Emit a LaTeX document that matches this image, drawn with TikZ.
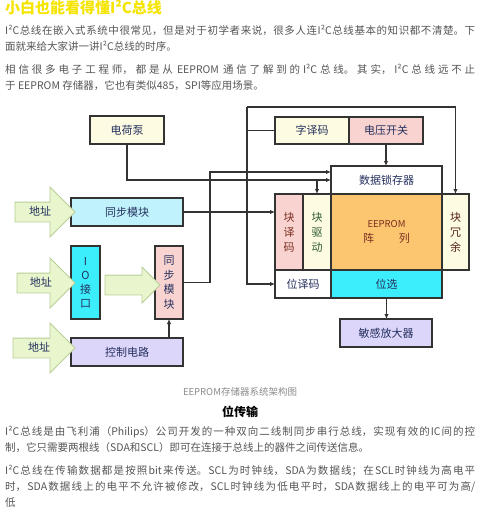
\documentclass[tikz,border=0pt]{standalone}
\usepackage{fontspec}
\setmainfont{Noto Sans CJK SC}
\usetikzlibrary{arrows.meta, positioning, shapes.arrows, calc}
\XeTeXlinebreaklocale "zh"
\XeTeXlinebreakskip=0pt plus 2pt

\definecolor{lineclr}{HTML}{333333}
\definecolor{labelclr}{HTML}{24305E}
\definecolor{txtclr}{HTML}{555555}
\definecolor{capclr}{HTML}{8A8A8A}
\definecolor{titleclr}{HTML}{F5E400}
\definecolor{yelfill}{HTML}{FDFBE1}
\definecolor{pinkfill}{HTML}{F9D3D0}
\definecolor{cyanlt}{HTML}{BFF2FB}
\definecolor{cyandk}{HTML}{3CEEFC}
\definecolor{orangefill}{HTML}{FCC671}
\definecolor{lavfill}{HTML}{DDD6FB}
\definecolor{grnfill}{HTML}{E8F5CD}
\definecolor{grnline}{HTML}{B7CF96}
\definecolor{redtxt}{HTML}{7A2E20}
\definecolor{grntxt}{HTML}{2E5E2E}

\tikzset{
  blk/.style={draw=lineclr, line width=1.1pt, inner sep=0pt, outer sep=0pt,
    text=labelclr, align=center, font=\fontsize{11}{15}\selectfont},
  addr/.style={single arrow, draw=grnline, fill=grnfill, line width=0.8pt,
    single arrow head extend=15pt, text height=7.5pt, text depth=1.5pt,
    inner ysep=5pt, inner xsep=0pt, text=labelclr, font=\fontsize{11}{13}\selectfont},
  wire/.style={draw=lineclr, line width=1.1pt},
  dot/.style={circle, fill=lineclr, inner sep=0pt, minimum size=3.6pt},
  para/.style={anchor=north west, text width=470pt, align=justify, inner sep=0pt,
    text=txtclr}
}

\begin{document}
\begin{tikzpicture}[x=1pt, y=-1pt, >={Latex[length=5pt, width=4.5pt]}]
    \useasboundingbox (0,0) rectangle (480,509);

    % Text above the figure
    \node[anchor=west, inner sep=0pt, text=titleclr, font=\bfseries\fontsize{15}{17}\selectfont] (title) at (5,8) {小白也能看得懂I²C总线};
    \node[para, font=\fontsize{10.5}{15.5}\selectfont] (par1) at (5,25) {I²C总线在嵌入式系统中很常见，但是对于初学者来说，很多人连I²C总线基本的知识都不清楚。下\linebreak 面就来给大家讲一讲I²C总线的时序。};
    \node[para, font=\fontsize{10.5}{15.5}\selectfont] (par2) at (5,64) {相信很多电子工程师，都是从 EEPROM 通信了解到的I²C总线。其实，I²C总线远不止\linebreak 于 EEPROM 存储器，它也有类似485，SPI等应用场景。};

    % Left blocks
    \node[blk, fill=yelfill, minimum width=74pt, minimum height=28pt] (pump) at (127,130) {电荷泵};
    \node[blk, fill=cyanlt, minimum width=112pt, minimum height=28pt] (syncA) at (127,212) {同步模块};
    \node[blk, fill=cyandk, minimum width=29pt, minimum height=73pt, font=\fontsize{11}{14}\selectfont] (ioport) at (85.5,282.5) {I\\O\\接\\口};
    \node[blk, fill=pinkfill, minimum width=28pt, minimum height=73pt, font=\fontsize{11}{14.5}\selectfont] (syncB) at (169,282.5) {同\\步\\模\\块};
    \node[blk, fill=lavfill, minimum width=112pt, minimum height=28pt] (ctrl) at (127,352) {控制电路};

    % Address inputs
    \node[addr, minimum height=60pt] (addr1) at (40,212) {地址};
    \node[addr, minimum height=58pt] (addr2) at (41,283) {地址};
    \node[addr, minimum height=62pt] (addr3) at (39,348) {地址};
    \node[addr, minimum height=55pt, single arrow head extend=8pt] (iolink) at (127.5,285) {};

    % Memory blocks
    \node[blk, fill=yelfill, minimum width=74pt, minimum height=27pt] (worddec) at (312,130.5) {字译码};
    \node[blk, fill=pinkfill, minimum width=74pt, minimum height=27pt, right=0pt of worddec] (vswitch) {电压开关};
    \node[blk, fill=white, minimum width=111pt, minimum height=28pt] (latch) at (386.5,180) {数据锁存器};
    \node[blk, fill=orangefill, minimum width=111pt, minimum height=76pt, text=redtxt, below=0pt of latch] (array) {{\fontsize{9.5}{14}\selectfont EEPROM}\\阵\hspace{25pt}列};
    \node[blk, fill=yelfill, minimum width=27pt, minimum height=76pt, text=redtxt!70!black, right=0pt of array] (blkred) {块\\冗\\余};
    \node[blk, fill=yelfill, minimum width=28pt, minimum height=76pt, text=grntxt, left=0pt of array] (blkdrv) {块\\驱\\动};
    \node[blk, fill=pinkfill, minimum width=28pt, minimum height=76pt, text=redtxt, left=0pt of blkdrv] (blkdec) {块\\译\\码};
    \node[blk, fill=cyandk, minimum width=111pt, minimum height=28pt, below=0pt of array] (bitsel) {位选};
    \node[blk, fill=white, minimum width=56pt, minimum height=28pt, left=0pt of bitsel] (bitdec) {位译码};
    \node[blk, fill=lavfill, minimum width=92pt, minimum height=28pt] (sense) at (386,333) {敏感放大器};

    % Bus lines
    \coordinate (busL) at (210,172);
    \coordinate (busR) at (247,107);
    \draw[wire, ->] (pump.south) |- (latch.west);
    \draw[wire, ->] (syncB.east) -| (busL) -- (busL -| latch.west);
    \draw[wire, ->] (busR) |- (bitdec.west);
    \draw[wire, ->] (busR) -| (blkred.north);
    \draw[wire] (worddec.west) -- (worddec.west -| busR);
    \draw[wire, ->] (syncA.east) -- (syncA.east -| blkdec.west);
    \draw[wire, ->] (blkdrv.north |- latch.west) -- (blkdrv.north);
    \draw[wire, ->] (vswitch.south) -- (vswitch.south |- latch.north);
    \draw[wire, ->] (bitsel.south) -- (bitsel.south |- sense.north);
    \draw[wire, ->] (ctrl.north -| syncB.south) -- (syncB.south);

    % Junctions
    \node[dot] (j1) at (busL |- latch.west) {};
    \node[dot] (j2) at (busR |- latch.west) {};
    \node[dot] (j3) at (busR |- busL) {};
    \node[dot] (j4) at (busL |- syncA.east) {};
    \node[dot] (j5) at (busR |- syncA.east) {};

    % Text below the figure
    \node[text=capclr, font=\fontsize{9.5}{11}\selectfont] (caption) at (240,392) {EEPROM存储器系统架构图};
    \node[text=black, font=\bfseries\fontsize{12}{14}\selectfont] (heading) at (240,412) {位传输};
    \node[para, font=\fontsize{10.5}{16}\selectfont] (par3) at (5,426) {I²C总线是由飞利浦（Philips）公司开发的一种双向二线制同步串行总线，实现有效的IC间的控\linebreak 制，它只需要两根线（SDA和SCL）即可在连接于总线上的器件之间传送信息。};
    \node[para, font=\fontsize{10.5}{16}\selectfont] (par4) at (5,465) {I²C总线在传输数据都是按照bit来传送。SCL为时钟线，SDA为数据线；在SCL时钟线为高电平\linebreak 时，SDA数据线上的电平不允许被修改，SCL时钟线为低电平时，SDA数据线上的电平可为高/\linebreak 低};
\end{tikzpicture}
\end{document}
